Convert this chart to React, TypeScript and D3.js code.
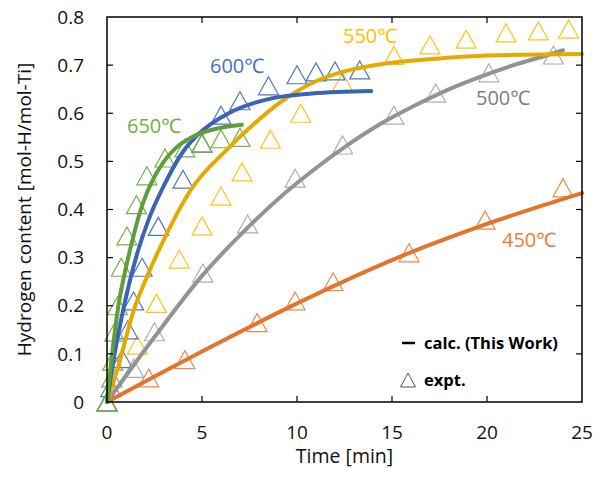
import { useEffect, useRef } from "react";
import * as d3 from "d3";

// axis ticks
const xTicks = [0, 5, 10, 15, 20, 25];
const yTicks = [0, 0.1, 0.2, 0.3, 0.4, 0.5, 0.6, 0.7, 0.8];

// experimental points (triangles)
const t450 = [0, 2.2, 4.1, 7.9, 9.9, 11.9, 15.9, 19.9, 24];
const v450 = [0, 0.05, 0.088, 0.165, 0.21, 0.25, 0.31, 0.378, 0.445];
const t500 = [0, 1.4, 2.5, 5.05, 7.4, 9.9, 12.4, 15.1, 17.3, 20.1, 23.5];
const v500 = [0, 0.07, 0.146, 0.268, 0.37, 0.465, 0.534, 0.596, 0.642, 0.684, 0.721];
const t550 = [0, 1.6, 2.6, 3.8, 5, 6, 7.1, 8.6, 10.2, 12.4, 15.1, 17, 18.9, 21, 22.7, 24.3];
const v550 = [0, 0.118, 0.205, 0.297, 0.366, 0.428, 0.478, 0.546, 0.6, 0.665, 0.72, 0.742, 0.754, 0.767, 0.771, 0.775];
const t600 = [0, 0.2, 0.8, 1.1, 1.4, 1.85, 2.7, 4, 5, 6, 7, 8.5, 10, 11, 12, 13.3];
const v600 = [0, 0.03, 0.09, 0.15, 0.21, 0.28, 0.365, 0.463, 0.538, 0.596, 0.626, 0.657, 0.68, 0.686, 0.688, 0.69];
const t650 = [0, 0.25, 0.3, 0.4, 0.55, 0.75, 1.05, 1.55, 2.1, 3.05, 4.1, 5, 6, 7];
const v650 = [0, 0.05, 0.085, 0.145, 0.2, 0.28, 0.345, 0.41, 0.47, 0.507, 0.528, 0.538, 0.547, 0.55];

// calculated curves
const c450t = [0, 5, 10, 15, 20, 25];
const c450v = [0, 0.105, 0.205, 0.295, 0.37, 0.434];
const c500t = [0, 2.5, 5, 7.5, 9.1, 10.8, 12.6, 14.4, 16.1, 17.9, 19.6, 21.4, 23.2, 24];
const c500v = [0, 0.135, 0.262, 0.366, 0.425, 0.48, 0.532, 0.578, 0.614, 0.648, 0.675, 0.7, 0.721, 0.731];
const c550t = [0, 0.6, 1.4, 2.1, 3.15, 4.4, 6.3, 7.8, 9.1, 10.9, 12.6, 15, 17.5, 20, 25];
const c550v = [0, 0.075, 0.19, 0.26, 0.35, 0.44, 0.524, 0.58, 0.622, 0.665, 0.688, 0.705, 0.714, 0.72, 0.723];
const c600t = [0, 0.4, 0.9, 1.6, 2.2, 3, 4, 4.8, 6.4, 7.8, 9.1, 10.8, 13.9];
const c600v = [0, 0.1, 0.2, 0.31, 0.38, 0.45, 0.52, 0.556, 0.6, 0.622, 0.634, 0.641, 0.646];
const c650t = [0, 0.3, 0.6, 1.0, 1.3, 1.7, 2.1, 2.5, 3, 3.6, 4.6, 6, 7.1];
const c650v = [0, 0.11, 0.2, 0.28, 0.33, 0.39, 0.435, 0.468, 0.5, 0.527, 0.553, 0.57, 0.576];

const series = [
  { name: "450℃", et: t450, ev: v450, ct: c450t, cv: c450v, line: "#E2742C", mark: "#EE8A4C", label: "#ED7D31", lx: 502, ly: 247 },
  { name: "500℃", et: t500, ev: v500, ct: c500t, cv: c500v, line: "#939393", mark: "#AEAEAE", label: "#808080", lx: 476, ly: 105 },
  { name: "550℃", et: t550, ev: v550, ct: c550t, cv: c550v, line: "#E5AA00", mark: "#FFC21A", label: "#FFC000", lx: 343, ly: 43 },
  { name: "600℃", et: t600, ev: v600, ct: c600t, cv: c600v, line: "#3A64B6", mark: "#4A78C8", label: "#4472C4", lx: 210, ly: 73 },
  { name: "650℃", et: t650, ev: v650, ct: c650t, cv: c650v, line: "#5E9E3C", mark: "#74B04C", label: "#70AD47", lx: 127, ly: 133 },
];

const W = 604, H = 477;
const margin = { top: 17, right: 22, bottom: 75, left: 107 };
const font = "'Open Sans', 'Noto Sans', sans-serif";

function triangle(x: number, y: number, w = 20, h = 18) {
  return `M${x},${y - h / 2}L${x + w / 2},${y + h / 2}L${x - w / 2},${y + h / 2}Z`;
}

export default function App() {
  const ref = useRef<SVGSVGElement>(null);

  useEffect(() => {
    const svg = d3.select(ref.current);
    svg.selectAll("*").remove();
    const x = d3.scaleLinear().domain([0, 25]).range([margin.left, W - margin.right]);
    const y = d3.scaleLinear().domain([0, 0.8]).range([H - margin.bottom, margin.top]);
    const x0 = x(0), x1 = x(25), y0 = y(0), y1 = y(0.8);

    // markers
    series.forEach((s) => {
      svg.append("g")
        .selectAll("path")
        .data(s.et.map((t, i) => [t, s.ev[i]]))
        .join("path")
        .attr("d", (d) => triangle(x(d[0]), y(d[1])))
        .attr("fill", "none")
        .attr("stroke", s.mark)
        .attr("stroke-width", 1.2);
    });

    // calc lines
    const line = d3.line<number[]>().x((d) => x(d[0])).y((d) => y(d[1])).curve(d3.curveMonotoneX);
    series.forEach((s) => {
      svg.append("path")
        .attr("d", line(s.ct.map((t, i) => [t, s.cv[i]])))
        .attr("fill", "none")
        .attr("stroke", s.line)
        .attr("stroke-width", 4)
        .attr("stroke-linecap", "round");
    });

    // frame and ticks
    svg.append("rect")
      .attr("x", x0).attr("y", y1).attr("width", x1 - x0).attr("height", y0 - y1)
      .attr("fill", "none").attr("stroke", "#000").attr("stroke-width", 1.5);
    const tk = svg.append("g").attr("stroke", "#000").attr("stroke-width", 1.2);
    xTicks.slice(1, -1).forEach((t) => {
      tk.append("line").attr("x1", x(t)).attr("x2", x(t)).attr("y1", y0).attr("y2", y0 - 6);
      tk.append("line").attr("x1", x(t)).attr("x2", x(t)).attr("y1", y1).attr("y2", y1 + 6);
    });
    yTicks.slice(1, -1).forEach((v) => {
      tk.append("line").attr("x1", x0).attr("x2", x0 + 6).attr("y1", y(v)).attr("y2", y(v));
      tk.append("line").attr("x1", x1).attr("x2", x1 - 6).attr("y1", y(v)).attr("y2", y(v));
    });

    svg.append("g").selectAll("text").data(xTicks).join("text")
      .attr("x", (d) => x(d)).attr("y", 439)
      .attr("text-anchor", "middle").attr("font-size", 19).attr("font-family", font).attr("fill", "#111")
      .text((d) => d);
    svg.append("g").selectAll("text").data(yTicks).join("text")
      .attr("x", 84).attr("y", (d) => y(d)).attr("dy", "0.35em")
      .attr("text-anchor", "end").attr("font-size", 19).attr("font-family", font).attr("fill", "#111")
      .text((d) => (d === 0 ? "0" : d3.format(".1f")(d)));

    svg.append("text")
      .attr("x", (x0 + x1) / 2).attr("y", 463)
      .attr("text-anchor", "middle").attr("font-size", 19.5).attr("font-family", font).attr("fill", "#111")
      .text("Time [min]");
    svg.append("text")
      .attr("transform", `translate(31,${(y0 + y1) / 2}) rotate(-90)`)
      .attr("text-anchor", "middle").attr("font-size", 19).attr("font-family", font).attr("fill", "#111")
      .text("Hydrogen content [mol-H/mol-Ti]");

    // temperature labels
    series.forEach((s) => {
      svg.append("text")
        .attr("x", s.lx).attr("y", s.ly)
        .attr("font-size", 20).attr("font-family", font).attr("fill", s.label)
        .text(s.name);
    });

    // legend
    svg.append("line").attr("x1", 402).attr("x2", 415).attr("y1", 343).attr("y2", 343)
      .attr("stroke", "#000").attr("stroke-width", 2.5);
    svg.append("text").attr("x", 424).attr("y", 349)
      .attr("font-size", 16.5).attr("font-weight", "bold").attr("font-family", font).attr("fill", "#000")
      .text("calc. (This Work)");
    svg.append("path").attr("d", triangle(408, 380, 15, 14))
      .attr("fill", "none").attr("stroke", "#555").attr("stroke-width", 1);
    svg.append("text").attr("x", 424).attr("y", 386)
      .attr("font-size", 16.5).attr("font-weight", "bold").attr("font-family", font).attr("fill", "#000")
      .text("expt.");
  }, []);

  return (
    <svg ref={ref} width={W} height={H}
      style={{ position: "absolute", left: 0, top: 0, background: "#fff" }} />
  );
}
